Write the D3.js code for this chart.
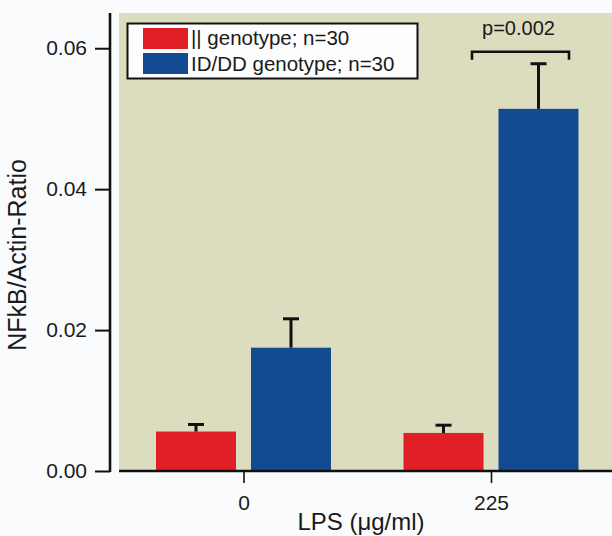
<!DOCTYPE html>
<html>
<head>
<meta charset="utf-8">
<script src="https://cdn.jsdelivr.net/npm/d3@7"></script>
<style>
  html, body { margin: 0; padding: 0; background: #fafbfd; }
  svg { display: block; font-family: Arial, "Liberation Sans", Helvetica, sans-serif; }
</style>
</head>
<body>
<svg id="chart" width="612" height="536"></svg>
<script>
// ---- data ----
const groups = ["0", "225"];
const seriesNames = ["|| genotype; n=30", "ID/DD genotype; n=30"];
const seriesColors = ["#e01f26", "#134a92"];
const iiMeans = [0.0056, 0.0054];
const iiErrors = [0.0010, 0.0011];
const idMeans = [0.0175, 0.0514];
const idErrors = [0.0041, 0.0064];
const yTicks = [0.00, 0.02, 0.04, 0.06];
const yLabel = "NFkB/Actin-Ratio";
const xLabel = "LPS (\u03BCg/ml)";
const pLabel = "p=0.002";
const pBracketValue = 0.0595;

const means = [iiMeans, idMeans];
const errors = [iiErrors, idErrors];

const svg = d3.select("#chart");

const plot = { left: 119, right: 612, top: 13, bottom: 471 };

const y = d3.scaleLinear().domain([0, 0.065]).range([plot.bottom, plot.top]);
const x = d3.scalePoint().domain(groups).range([243.5, 491]);
const xi = d3.scaleBand().domain([0, 1]).range([-87.5, 87.5]).paddingInner(15 / 95).paddingOuter(0);

// plot background
svg.append("rect")
  .attr("x", plot.left).attr("y", plot.top)
  .attr("width", plot.right - plot.left).attr("height", plot.bottom - plot.top)
  .attr("fill", "#dcdcbe");

// bars
const barData = [];
groups.forEach((g, gi) => {
  [0, 1].forEach(si => {
    barData.push({ g, si, v: means[si][gi], e: errors[si][gi] });
  });
});

svg.append("g").selectAll("rect").data(barData).join("rect")
  .attr("x", d => x(d.g) + xi(d.si))
  .attr("y", d => y(d.v))
  .attr("width", xi.bandwidth())
  .attr("height", d => y(0) - y(d.v))
  .attr("fill", d => seriesColors[d.si]);

// error bars
const eb = svg.append("g").attr("stroke", "#111").attr("stroke-width", 3);
barData.forEach(d => {
  const cx = x(d.g) + xi(d.si) + xi.bandwidth() / 2;
  eb.append("line").attr("x1", cx).attr("x2", cx).attr("y1", y(d.v)).attr("y2", y(d.v + d.e));
  eb.append("line").attr("x1", cx - 8).attr("x2", cx + 8).attr("y1", y(d.v + d.e)).attr("y2", y(d.v + d.e));
});

// y axis
const yAxis = d3.axisLeft(y).tickValues(yTicks).tickFormat(d3.format(".2f")).tickSize(15).tickPadding(8);
const yg = svg.append("g").attr("transform", `translate(110,0)`).call(yAxis);
yg.select(".domain").remove();
yg.selectAll(".tick line").attr("stroke", "#111").attr("stroke-width", 2);
yg.selectAll(".tick text").attr("font-size", 21).attr("fill", "#1a1a1a").attr("font-family", "Arial, 'Liberation Sans', sans-serif");
svg.append("line").attr("x1", 110).attr("x2", 110).attr("y1", plot.top).attr("y2", plot.bottom + 1)
  .attr("stroke", "#111").attr("stroke-width", 2.6);

// x axis
const xAxis = d3.axisBottom(x).tickSize(12).tickPadding(12);
const xg = svg.append("g").attr("transform", `translate(0,${plot.bottom})`).call(xAxis);
xg.select(".domain").remove();
xg.selectAll(".tick line").attr("stroke", "#111").attr("stroke-width", 1.6);
xg.selectAll(".tick text").attr("font-size", 21).attr("fill", "#1a1a1a").attr("font-family", "Arial, 'Liberation Sans', sans-serif");
svg.append("line").attr("x1", plot.left).attr("x2", plot.right).attr("y1", plot.bottom).attr("y2", plot.bottom)
  .attr("stroke", "#111").attr("stroke-width", 2.6);

// axis titles
svg.append("text")
  .attr("transform", `translate(26,255) rotate(-90)`)
  .attr("text-anchor", "middle")
  .attr("font-size", 25).attr("fill", "#1a1a1a")
  .text(yLabel);
svg.append("text")
  .attr("x", 361).attr("y", 530)
  .attr("text-anchor", "middle")
  .attr("font-size", 24).attr("fill", "#1a1a1a")
  .text(xLabel);

// legend
const lg = svg.append("g");
lg.append("rect").attr("x", 127.5).attr("y", 23.5).attr("width", 290).attr("height", 55)
  .attr("fill", "#fdfdfd").attr("stroke", "#111").attr("stroke-width", 2);
seriesNames.forEach((name, i) => {
  lg.append("rect").attr("x", 143).attr("y", 28 + i * 25).attr("width", 45).attr("height", 21)
    .attr("fill", seriesColors[i]);
  lg.append("text").attr("x", 191).attr("y", 45 + i * 25.5)
    .attr("font-size", 20.5).attr("fill", "#1a1a1a").text(name);
});

// significance bracket
const g2 = groups[1];
const bx1 = x(g2) - 19, bx2 = x(g2) + 78, by = y(pBracketValue);
svg.append("path")
  .attr("d", `M${bx1},${by + 8}V${by}H${bx2}V${by + 8}`)
  .attr("fill", "none").attr("stroke", "#111").attr("stroke-width", 2.6);
svg.append("text").attr("x", (bx1 + bx2) / 2 - 2).attr("y", 35)
  .attr("text-anchor", "middle").attr("font-size", 20).attr("fill", "#1a1a1a").text(pLabel);
</script>
</body>
</html>
